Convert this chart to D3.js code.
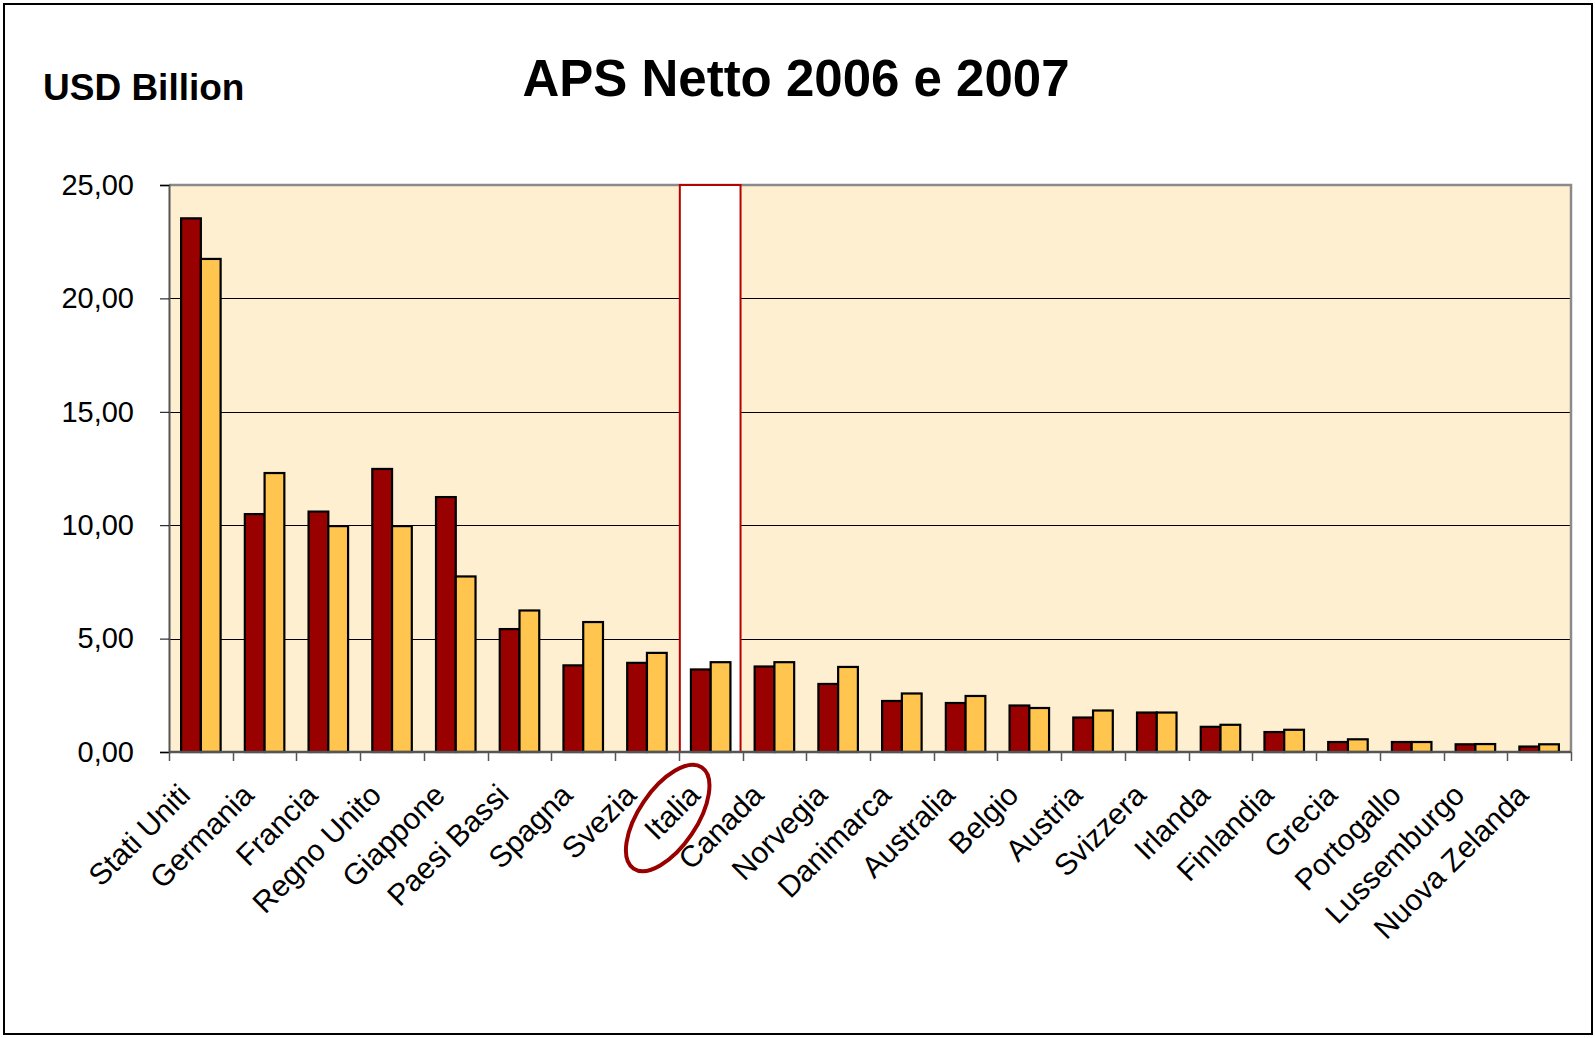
<!DOCTYPE html>
<html>
<head>
<meta charset="utf-8">
<script src="https://cdn.jsdelivr.net/npm/d3@7"></script>
<style>
  html, body { margin: 0; padding: 0; background: #fff; }
  svg { display: block; }
  text { font-family: "Liberation Sans", Arial, sans-serif; }
</style>
</head>
<body>
<svg id="chart" width="1595" height="1038"></svg>
<script>
const categories = ["Stati Uniti","Germania","Francia","Regno Unito","Giappone","Paesi Bassi","Spagna","Svezia","Italia","Canada","Norvegia","Danimarca","Australia","Belgio","Austria","Svizzera","Irlanda","Finlandia","Grecia","Portogallo","Lussemburgo","Nuova Zelanda"];
const series = ["2006", "2007"];
const values2006 = [23.53,10.49,10.60,12.48,11.24,5.42,3.82,3.93,3.64,3.77,3.00,2.25,2.16,2.05,1.52,1.74,1.11,0.88,0.44,0.44,0.34,0.24];
const values2007 = [21.74,12.30,9.96,9.96,7.74,6.24,5.73,4.37,3.96,3.96,3.75,2.58,2.47,1.94,1.83,1.74,1.20,0.98,0.56,0.44,0.35,0.34];
const yTicks = [0, 5, 10, 15, 20, 25];
const highlighted = "Italia";
const titleText = "APS Netto 2006 e 2007";
const unitText = "USD Billion";

const colors = { "2006": "#990000", "2007": "#FFC54F" };

const svg = d3.select("#chart");
const plot = { left: 169, right: 1571, top: 185, bottom: 752 };

// outer border
svg.append("rect").attr("x", 4).attr("y", 4).attr("width", 1588).attr("height", 1030)
  .attr("fill", "#fff").attr("stroke", "#000").attr("stroke-width", 2);

const x = d3.scaleBand().domain(categories).range([plot.left, plot.right])
  .paddingInner(0.38).paddingOuter(0.19);
const xs = d3.scaleBand().domain(series).range([0, x.bandwidth()]);
const y = d3.scaleLinear().domain([0, 25]).range([plot.bottom, plot.top]);

// plot background
svg.append("rect").attr("x", plot.left).attr("y", plot.top)
  .attr("width", plot.right - plot.left).attr("height", plot.bottom - plot.top)
  .attr("fill", "#FFEFD1");

// gridlines
svg.append("g").selectAll("line").data(yTicks.filter(d => d > 0 && d < 25)).join("line")
  .attr("x1", plot.left).attr("x2", plot.right)
  .attr("y1", d => Math.round(y(d)) + 0.5).attr("y2", d => Math.round(y(d)) + 0.5)
  .attr("stroke", "#000").attr("stroke-width", 1);

// top and right border of plot
svg.append("path")
  .attr("d", `M${plot.left},${plot.top} H${plot.right} V${plot.bottom}`)
  .attr("fill", "none").attr("stroke", "#8a8a8a").attr("stroke-width", 2.5);

// highlight box for Italia
const step = x.step();
const hx = x(highlighted) - x.paddingOuter() * step;
svg.append("rect").attr("x", hx + 1).attr("y", plot.top)
  .attr("width", step - 3).attr("height", plot.bottom - plot.top)
  .attr("fill", "#fff").attr("stroke", "#B80000").attr("stroke-width", 2);

// bars
const data = categories.map((c, i) => ({ c, v: { "2006": values2006[i], "2007": values2007[i] } }));
const g = svg.append("g");
data.forEach(d => {
  series.forEach(s => {
    g.append("rect")
      .attr("x", x(d.c) + xs(s))
      .attr("y", y(d.v[s]))
      .attr("width", xs.bandwidth())
      .attr("height", plot.bottom - y(d.v[s]))
      .attr("fill", colors[s])
      .attr("stroke", "#000").attr("stroke-width", 2.2);
  });
});

// y axis
const yAxis = d3.axisLeft(y).tickValues(yTicks).tickSize(9).tickPadding(26)
  .tickFormat(d => d3.format(".2f")(d).replace(".", ","));
const ya = svg.append("g").attr("transform", `translate(${plot.left},0)`).call(yAxis);
ya.select(".domain").attr("stroke", "#555").attr("stroke-width", 2);
ya.selectAll(".tick line").attr("stroke", "#000").attr("stroke-width", 1);
ya.selectAll(".tick text").attr("font-size", 29).attr("fill", "#000")
  .attr("font-family", "'Liberation Sans', Arial, sans-serif");

// x baseline and ticks at category boundaries
svg.append("line").attr("x1", plot.left).attr("x2", plot.right)
  .attr("y1", plot.bottom).attr("y2", plot.bottom)
  .attr("stroke", "#555").attr("stroke-width", 2.5);
const bounds = categories.map(c => x(c) - x.paddingOuter() * step).concat([plot.right]);
svg.append("g").selectAll("line").data(bounds).join("line")
  .attr("x1", d => Math.round(d) + 0.5).attr("x2", d => Math.round(d) + 0.5)
  .attr("y1", plot.bottom).attr("y2", plot.bottom + 9)
  .attr("stroke", "#555").attr("stroke-width", 1.5);

// x labels
svg.append("g").selectAll("text").data(categories).join("text")
  .attr("transform", d => `translate(${x(d) + x.bandwidth() / 2 - 9},${plot.bottom + 45}) rotate(-45)`)
  .attr("text-anchor", "end")
  .attr("font-size", 30).attr("fill", "#000")
  .text(d => d);

// ellipse around Italia
const ic = x(highlighted) + x.bandwidth() / 2;
svg.append("ellipse")
  .attr("cx", 0).attr("cy", 0).attr("rx", 61).attr("ry", 29)
  .attr("transform", `translate(${ic - 43},${818}) rotate(-56)`)
  .attr("fill", "none").attr("stroke", "#990000").attr("stroke-width", 4);

// titles
svg.append("text").attr("x", 796).attr("y", 96).attr("text-anchor", "middle")
  .attr("font-size", 51).attr("font-weight", "bold").text(titleText);
svg.append("text").attr("x", 43).attr("y", 100)
  .attr("font-size", 37).attr("font-weight", "bold").text(unitText);
</script>
</body>
</html>
